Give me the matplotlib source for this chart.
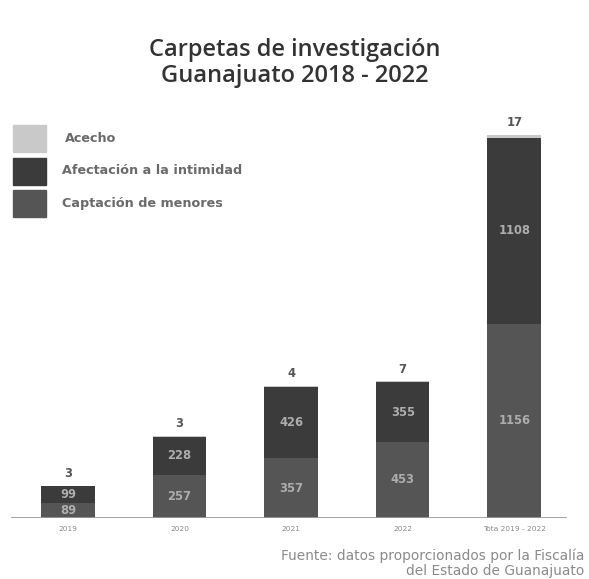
import numpy as np
import matplotlib
matplotlib.use('Agg')
import matplotlib.pyplot as plt
from matplotlib.patches import Rectangle

plt.rcParams['font.family'] = ['DejaVu Sans']

categorias = ['2019', '2020', '2021', '2022', 'Tota 2019 - 2022']
captacion = [89, 257, 357, 453, 1156]
afectacion = [99, 228, 426, 355, 1108]
acecho = [3, 3, 4, 7, 17]
series = ['Acecho', 'Afectación a la intimidad', 'Captación de menores']

c_capt = '#555555'
c_afec = '#3b3b3b'
c_acec = '#c9c9c9'

W, H = 589, 579
fig = plt.figure(figsize=(W / 100, H / 100), dpi=100)
ax = fig.add_axes([0, 61 / H, 1, 400 / H])

x = np.arange(len(categorias))
w = 0.48
capt = np.array(captacion)
afec = np.array(afectacion)
acec = np.array(acecho)

ax.bar(x, capt, w, color=c_capt)
ax.bar(x, afec, w, bottom=capt, color=c_afec)
ax.bar(x, acec, w, bottom=capt + afec, color=c_acec)

for i in range(len(x)):
    ax.text(x[i], capt[i] / 2, str(capt[i]), ha='center', va='center',
            color='#adadad', fontsize=8.3, fontweight='bold')
    ax.text(x[i], capt[i] + afec[i] / 2, str(afec[i]), ha='center', va='center',
            color='#adadad', fontsize=8.3, fontweight='bold')
    ax.annotate(str(acec[i]), (x[i], capt[i] + afec[i] + acec[i]),
                xytext=(0, 4), textcoords='offset points', ha='center', va='bottom',
                color='#555555', fontsize=8.3, fontweight='bold')

ax.set_xlim(-0.61, 4.67)
ax.set_ylim(0, 2382)
ax.axhline(0, xmin=12 / W, xmax=565 / W, color='#9a9a9a', lw=2)
for s in ax.spines.values():
    s.set_visible(False)
ax.set_yticks([])
ax.set_xticks(x)
ax.set_xticklabels(categorias, fontsize=5.3, color='#888888')
ax.tick_params(axis='x', length=0, pad=6)

# legend drawn by hand, rows of swatch + label
for k, (lab, col) in enumerate(zip(series, [c_acec, c_afec, c_capt])):
    top = 125 + k * 32.5
    fig.add_artist(Rectangle((13 / W, 1 - (top + 27) / H), 33 / W, 27 / H,
                             transform=fig.transFigure, color=col))
    fig.text((62 if k else 65) / W, 1 - (top + 13.5) / H, lab, ha='left', va='center',
             fontsize=9.2, fontweight='bold', color='#6a6a6a')

fig.text(0.5, 1 - 50 / H, 'Carpetas de investigación', ha='center', va='center',
         fontsize=17, fontweight='semibold', color='#333333', family='Open Sans')
fig.text(0.5, 1 - 76 / H, 'Guanajuato 2018 - 2022', ha='center', va='center',
         fontsize=17, fontweight='semibold', color='#333333', family='Open Sans')

fig.text(584 / W, 1 - 556 / H, 'Fuente: datos proporcionados por la Fiscalía',
         ha='right', va='center', fontsize=9.9, color='#8a8a8a')
fig.text(584 / W, 1 - 571 / H, 'del Estado de Guanajuato',
         ha='right', va='center', fontsize=9.9, color='#8a8a8a')

fig.savefig('out.png', dpi=100)
